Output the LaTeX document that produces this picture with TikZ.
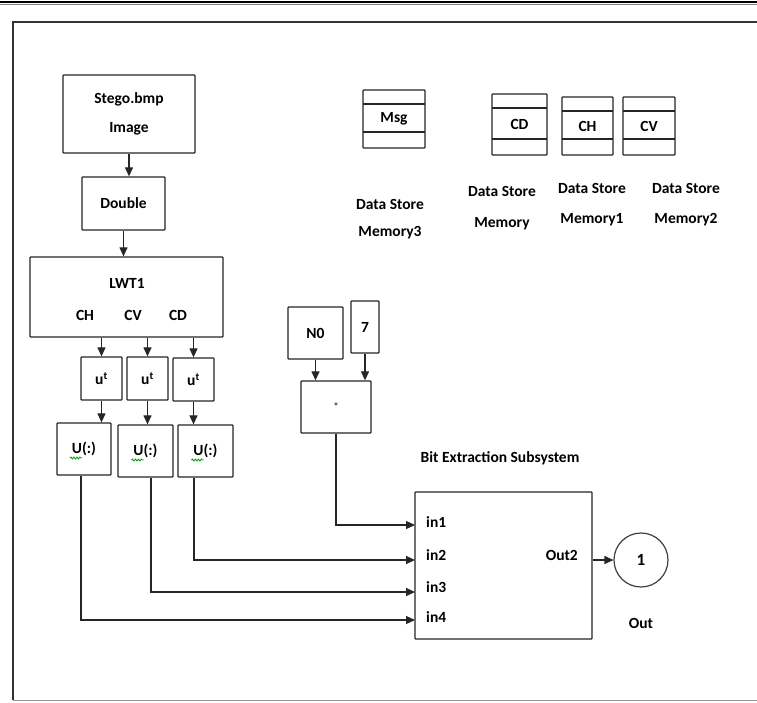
\documentclass[tikz,border=0pt]{standalone}
\usepackage{fontspec}
\setmainfont{Carlito}
\usetikzlibrary{arrows.meta,decorations.pathmorphing}
\begin{document}
\begin{tikzpicture}[x=1pt,y=-1pt,
  blk/.style={draw=black!85, line width=1.3pt, rounded corners=0.8pt, inner sep=0pt,
    font=\fontsize{15.5}{17}\selectfont\bfseries, align=center},
  arr/.style={line width=1.2pt, draw=black!85, -{Triangle[length=9pt,width=8pt]}},
  wire/.style={line width=1.2pt, draw=black!85},
  txt/.style={font=\fontsize{15.5}{17}\selectfont\bfseries, inner sep=0pt, align=center},
  store/.style={blk, path picture={
    \draw[line width=1.1pt,black!85] ([yshift=-14pt]path picture bounding box.north west) -- ([yshift=-14pt]path picture bounding box.north east);
    \draw[line width=1.1pt,black!85] ([yshift=16pt]path picture bounding box.south west) -- ([yshift=16pt]path picture bounding box.south east);}},
  squig/.style={draw=green!60!black, line width=0.8pt, decorate, decoration={snake, amplitude=1pt, segment length=3pt}}
]
\fill[white] (0,0) rectangle (757,702);
\useasboundingbox (0,0) rectangle (757,702);
% frame
\draw[line width=2pt, black] (0,1.5) -- (757,1.5);
\draw[line width=0.8pt, black!50] (0,4.5) -- (757,4.5);
\draw[line width=1.2pt, black!80] (13,700) -- (13,22) -- (757,22);
\draw[line width=0.8pt, black!40] (13,700) -- (757,700);

% left chain
\node[blk, minimum width=132pt, minimum height=78pt, font=\fontsize{15.5}{29}\selectfont\bfseries] (stego) at (129,114) {Stego.bmp\\Image};
\node[blk, minimum width=83pt, minimum height=53pt] (dbl) at (123.5,203.5) {Double};
\node[blk, minimum width=193pt, minimum height=80pt] (lwt) at (126.5,297) {};
\node[txt] (lwtl) at (127,283) {LWT1};
\node[txt] (lch) at (85,315) {CH};
\node[txt] (lcv) at (133,315) {CV};
\node[txt] (lcd) at (178,315) {CD};

\node[blk, minimum width=41pt, minimum height=43pt] (u1) at (101.5,378.5) {u\textsuperscript{t}};
\node[blk, minimum width=41pt, minimum height=43pt] (u2) at (147.5,378.5) {u\textsuperscript{t}};
\node[blk, minimum width=41pt, minimum height=43pt] (u3) at (193.5,379.5) {u\textsuperscript{t}};

\node[blk, minimum width=54pt, minimum height=52pt] (U1) at (84,449) {U(:)};
\node[blk, minimum width=55pt, minimum height=52pt] (U2) at (145.5,451) {U(:)};
\node[blk, minimum width=55pt, minimum height=52pt] (U3) at (205.5,451) {U(:)};
\draw[squig] ([xshift=-14pt,yshift=-9pt]U1.center) -- ([xshift=-2pt,yshift=-9pt]U1.center);
\draw[squig] ([xshift=-14pt,yshift=-9pt]U2.center) -- ([xshift=-2pt,yshift=-9pt]U2.center);
\draw[squig] ([xshift=-14pt,yshift=-9pt]U3.center) -- ([xshift=-2pt,yshift=-9pt]U3.center);

\draw[arr] (stego.south) -- (stego.south |- dbl.north);
\draw[arr] (dbl.south) -- (dbl.south |- lwt.north);
\draw[arr] (u1.north |- lwt.south) -- (u1.north);
\draw[arr] (u2.north |- lwt.south) -- (u2.north);
\draw[arr] (u3.north |- lwt.south) -- (u3.north);
\draw[arr] (u1.south) -- (u1.south |- U1.north);
\draw[arr] (u2.south) -- (u2.south |- U2.north);
\draw[arr] (u3.south) -- (u3.south |- U3.north);

% product
\node[blk, minimum width=55pt, minimum height=52pt] (n0) at (315.5,333) {N0};
\node[blk, minimum width=28pt, minimum height=52pt] (seven) at (365,327) {7};
\node[blk, minimum width=70pt, minimum height=52pt, font=\fontsize{11}{11}\selectfont] (prod) at (336,407) {*};
\draw[arr] (n0.south) -- (n0.south |- prod.north);
\draw[arr] (seven.south) -- (seven.south |- prod.north);

% subsystem
\node[txt] (title) at (500,458) {Bit Extraction Subsystem};
\node[blk, minimum width=177pt, minimum height=147pt] (bit) at (503.5,565.5) {};
\coordinate (p1) at (415,525);
\coordinate (p2) at (415,560);
\coordinate (p3) at (415,592);
\coordinate (p4) at (415,620);
\node[txt, anchor=west] (in1) at (426,522) {in1};
\node[txt, anchor=west] (in2) at (426,555) {in2};
\node[txt, anchor=west] (in3) at (426,587) {in3};
\node[txt, anchor=west] (in4) at (426,617) {in4};
\node[txt, anchor=east] (out2) at (578,555) {Out2};
\node[draw=black!75, line width=1.2pt, circle, minimum size=54pt, inner sep=0pt, font=\fontsize{17}{18}\selectfont\bfseries] (out) at (641,560) {1};
\node[txt] (outl) at (641,623) {Out};
\draw[arr] (bit.east |- out.west) -- (out.west);

\draw[arr] (prod.south) |- (p1);
\draw[arr] ([xshift=-11.5pt]U3.south) |- (p2);
\draw[arr] ([xshift=5.5pt]U2.south) |- (p3);
\draw[arr] ([xshift=-3pt]U1.south) |- (p4);

% data stores
\node[store, minimum width=62pt, minimum height=58pt] (msg) at (394,119) {Msg};
\node[store, minimum width=55pt, minimum height=61pt] (cd) at (519.5,124.5) {CD};
\node[store, minimum width=51pt, minimum height=58pt] (ch) at (587.5,126) {CH};
\node[store, minimum width=52pt, minimum height=58pt] (cv) at (649,126) {CV};
\node[txt, font=\fontsize{15.5}{27}\selectfont\bfseries] (lmsg) at (390,219) {Data Store\\Memory3};
\node[txt, font=\fontsize{15.5}{31}\selectfont\bfseries] (lcdm) at (502,208) {Data Store\\Memory};
\node[txt, font=\fontsize{15.5}{30}\selectfont\bfseries] (lchm) at (592,205) {Data Store\\Memory1};
\node[txt, font=\fontsize{15.5}{30}\selectfont\bfseries] (lcvm) at (686,205) {Data Store\\Memory2};
\end{tikzpicture}
\end{document}
